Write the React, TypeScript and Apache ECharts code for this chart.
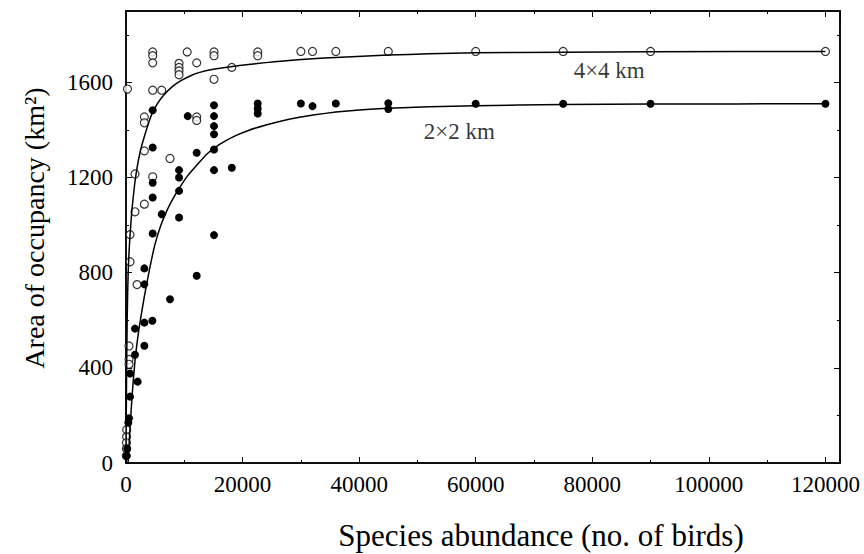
import React, { useEffect, useRef } from "react";
import * as echarts from "echarts";

// 4x4 km grid (open circles): [abundance, area]
const openPoints: number[][] = [
  [250, 1572],
  [4580, 1728], [4580, 1712], [4580, 1682],
  [10500, 1728],
  [9100, 1680], [9100, 1663], [9100, 1648], [9100, 1632],
  [12130, 1682],
  [15100, 1728], [15100, 1712], [15100, 1613],
  [18150, 1663],
  [22600, 1728], [22600, 1712],
  [30000, 1730], [32000, 1730], [36000, 1730], [45000, 1730],
  [60000, 1730], [75000, 1730], [90000, 1730], [120000, 1730],
  [4580, 1567], [6130, 1567],
  [3150, 1455], [3150, 1430],
  [12130, 1455], [12130, 1440],
  [3150, 1312],
  [7550, 1280],
  [1545, 1215],
  [4580, 1203],
  [1545, 1056],
  [3150, 1088],
  [690, 960],
  [690, 846],
  [1900, 750],
  [515, 492],
  [515, 435], [515, 415],
  [120, 140], [100, 110], [80, 85], [60, 60], [40, 30],
];

// 2x2 km grid (filled circles): [abundance, area]
const filledPoints: number[][] = [
  [4580, 1483],
  [15100, 1504], [15100, 1458], [15100, 1416], [15100, 1382], [15100, 1318],
  [10590, 1458],
  [22600, 1511], [22600, 1490], [22600, 1469],
  [30000, 1511], [32000, 1500], [36000, 1511],
  [45000, 1512], [45000, 1488],
  [60000, 1510], [75000, 1510], [90000, 1510], [120000, 1510],
  [4580, 1326],
  [12130, 1304],
  [15100, 1231],
  [18150, 1241],
  [9100, 1231], [9100, 1200],
  [9100, 1144],
  [4580, 1178],
  [4580, 1116],
  [6130, 1046],
  [9100, 1032],
  [4580, 965],
  [15100, 958],
  [3150, 818],
  [3150, 751],
  [12130, 787],
  [7550, 688],
  [1545, 565],
  [3150, 590],
  [4520, 598],
  [3150, 493],
  [1545, 455],
  [690, 376],
  [2000, 342],
  [690, 279],
  [515, 188],
  [400, 170],
  [200, 60], [100, 30],
];

// fitted curves
const curve4x4: number[][] = [
  [0, 0], [50, 220], [100, 380], [200, 600], [300, 730], [400, 820], [550, 900],
  [700, 960], [1000, 1060], [1500, 1175], [2000, 1255], [2500, 1315],
  [3000, 1360], [3750, 1420], [4500, 1470], [5500, 1515], [6500, 1547],
  [8000, 1583], [9500, 1608], [11000, 1627], [12500, 1641], [15000, 1655],
  [18000, 1666], [21000, 1675], [24000, 1683], [27000, 1690], [32000, 1699],
  [36000, 1705], [45000, 1715], [52000, 1720], [60000, 1724], [75000, 1727],
  [90000, 1729], [120000, 1730],
];

const curve2x2: number[][] = [
  [350, 0], [450, 40], [600, 110], [800, 190], [1100, 300], [1545, 430],
  [2200, 560], [3150, 700], [4000, 810], [4978, 920], [6000, 1000],
  [7000, 1060], [8000, 1108], [9000, 1150], [10500, 1205], [12400, 1259],
  [13800, 1297], [15300, 1327], [17000, 1353], [19000, 1378], [21000, 1398],
  [24000, 1421], [26700, 1438], [29500, 1452], [32400, 1464], [36000, 1475],
  [40000, 1484], [45000, 1491], [52000, 1497], [60000, 1502], [75000, 1507],
  [90000, 1509], [120000, 1510],
];

const curveLabels = ["4×4 km", "2×2 km"];
const curveLabelPos: number[][] = [[82900, 1651], [57200, 1395]];

const xTickStep = 20000;
const xMinorStep = 10000;
const yTickStep = 400;
const yMinorStep = 200;
const xMax = 122500;
const yMax = 1900;

const FONT = "'Liberation Serif', 'Times New Roman', serif";

export default function App() {
  const ref = useRef<HTMLDivElement>(null);

  useEffect(() => {
    if (!ref.current) return;
    const chart = echarts.init(ref.current, undefined, { renderer: "svg" });

    const baseX = (position: string, interval: number, len: number, labels: boolean, line: boolean) => ({
      type: "value",
      min: 0,
      max: xMax,
      interval,
      position,
      axisLine: { show: line, onZero: false, lineStyle: { color: "#000", width: 1.5 } },
      axisTick: { show: true, inside: true, length: len, lineStyle: { color: "#000", width: 1 } },
      axisLabel: labels
        ? {
            show: true,
            color: "#000",
            fontFamily: FONT,
            fontSize: 23,
            margin: 10,
            showMaxLabel: false,
            formatter: (v: number) => (v % xTickStep === 0 ? String(v) : ""),
          }
        : { show: false },
      splitLine: { show: false },
    });

    const baseY = (position: string, interval: number, len: number, labels: boolean, line: boolean) => ({
      type: "value",
      min: 0,
      max: yMax,
      interval,
      position,
      axisLine: { show: line, onZero: false, lineStyle: { color: "#000", width: 1.5 } },
      axisTick: { show: true, inside: true, length: len, lineStyle: { color: "#000", width: 1 } },
      axisLabel: labels
        ? {
            show: true,
            color: "#000",
            fontFamily: FONT,
            fontSize: 23,
            margin: 13,
            showMaxLabel: false,
            formatter: (v: number) => (v % yTickStep === 0 ? String(v) : ""),
          }
        : { show: false },
      splitLine: { show: false },
    });

    const y0: any = baseY("left", yTickStep, 6, true, true);
    y0.name = "Area of occupancy (km²)";
    y0.nameLocation = "middle";
    y0.nameGap = 78;
    y0.nameTextStyle = { color: "#000", fontFamily: FONT, fontSize: 28, padding: [0, 0, 0, 18] };

    chart.setOption({
      animation: false,
      backgroundColor: "#fff",
      grid: {
        left: 126,
        right: 24,
        top: 11,
        bottom: 91,
        show: true,
        borderColor: "#000",
        borderWidth: 1.5,
        backgroundColor: "transparent",
      },
      graphic: [
        {
          type: "text",
          x: 541,
          y: 535,
          silent: true,
          style: {
            text: "Species abundance (no. of birds)",
            fill: "#000",
            font: `31px ${FONT}`,
            align: "center",
            verticalAlign: "middle",
          },
        },
      ],
      xAxis: [
        baseX("bottom", xTickStep, 6, true, true),
        baseX("bottom", xMinorStep, 3, false, false),
        baseX("top", xTickStep, 6, false, true),
        baseX("top", xMinorStep, 3, false, false),
      ],
      yAxis: [
        y0,
        baseY("left", yMinorStep, 3, false, false),
        baseY("right", yTickStep, 6, false, true),
        baseY("right", yMinorStep, 3, false, false),
      ],
      series: [
        {
          type: "line",
          data: curve4x4,
          smooth: 0.15,
          showSymbol: false,
          symbol: "none",
          lineStyle: { color: "#000", width: 1.5 },
          silent: true,
        },
        {
          type: "line",
          data: curve2x2,
          smooth: 0.15,
          showSymbol: false,
          symbol: "none",
          lineStyle: { color: "#000", width: 1.5 },
          silent: true,
        },
        {
          type: "scatter",
          data: openPoints,
          symbol: "circle",
          symbolSize: 8,
          itemStyle: { color: "#fff", borderColor: "#000", borderWidth: 1.2 },
          silent: true,
        },
        {
          type: "scatter",
          data: filledPoints,
          symbol: "circle",
          symbolSize: 8,
          itemStyle: { color: "#000", opacity: 1 },
          silent: true,
        },
        {
          type: "scatter",
          data: curveLabelPos.map((p, i) => ({ value: p, name: curveLabels[i] })),
          symbolSize: 0,
          silent: true,
          label: {
            show: true,
            position: "inside",
            formatter: (p: any) => p.name,
            color: "#000",
            fontFamily: FONT,
            fontSize: 23,
          },
        },
      ],
    });

    return () => chart.dispose();
  }, []);

  return (
    <div
      ref={ref}
      style={{ position: "fixed", left: 0, top: 0, width: 864, height: 554, background: "#fff" }}
    />
  );
}
